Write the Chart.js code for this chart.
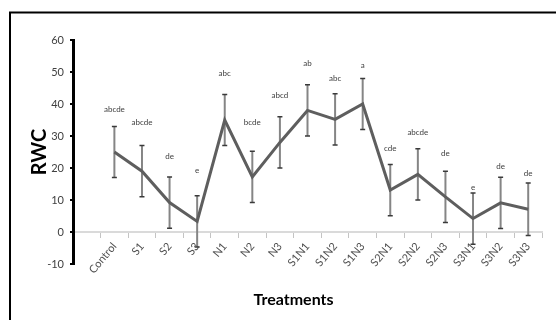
<!DOCTYPE html>
<html>
<head>
<meta charset="utf-8">
<script src="https://cdn.jsdelivr.net/npm/chart.js@4/dist/chart.umd.min.js"></script>
<style>
  html, body { margin: 0; padding: 0; background: #fff; }
</style>
</head>
<body>
<canvas id="rwcChart" width="556" height="320"></canvas>
<script>
const treatments = ['Control', 'S1', 'S2', 'S3', 'N1', 'N2', 'N3', 'S1N1', 'S1N2', 'S1N3', 'S2N1', 'S2N2', 'S2N3', 'S3N1', 'S3N2', 'S3N3'];
const rwcMeans = [25, 19, 9.2, 3.3, 35, 17.2, 28, 38, 35.2, 40, 13.1, 18, 11, 4.2, 9.1, 7.1];
const rwcErrors = [8, 8, 8, 8, 8, 8, 8, 8, 8, 8, 8, 8, 8, 8, 8, 8.2];
const letters = ['abcde', 'abcde', 'de', 'e', 'abc', 'bcde', 'abcd', 'ab', 'abc', 'a', 'cde', 'abcde', 'de', 'e', 'de', 'de'];
const letterLevels = [38.3, 34.3, 23.5, 19.2, 49.4, 34.3, 42.6, 52.7, 48, 52.2, 26.1, 31, 24.6, 13.9, 20.4, 18.3];

// frame, error bars, significance letters and the x title
const extras = {
    id: 'extras',
    beforeDraw(chart) {
        const c = chart.ctx;
        c.save();
        c.fillStyle = '#fff';
        c.fillRect(0, 0, chart.width, chart.height);
        c.strokeStyle = '#000';
        c.lineWidth = 2;
        c.strokeRect(10, 12.5, chart.width + 20, chart.height + 20);
        c.restore();
    },
    beforeDatasetsDraw(chart) {
        const c = chart.ctx;
        const y = chart.scales.y;
        const pts = chart.getDatasetMeta(0).data;
        c.save();
        pts.forEach((p, i) => {
            const top = y.getPixelForValue(rwcMeans[i] + rwcErrors[i]);
            const bot = y.getPixelForValue(rwcMeans[i] - rwcErrors[i]);
            c.strokeStyle = '#858585';
            c.lineWidth = 2;
            c.beginPath();
            c.moveTo(p.x, top);
            c.lineTo(p.x, bot);
            c.stroke();
            c.strokeStyle = '#3a3a3a';
            c.lineWidth = 1.5;
            c.beginPath();
            c.moveTo(p.x - 2.5, top);
            c.lineTo(p.x + 2.5, top);
            c.moveTo(p.x - 2.5, bot);
            c.lineTo(p.x + 2.5, bot);
            c.stroke();
        });
        c.restore();
    },
    afterDatasetsDraw(chart) {
        const c = chart.ctx;
        const y = chart.scales.y;
        const pts = chart.getDatasetMeta(0).data;
        const area = chart.chartArea;
        c.save();
        c.fillStyle = '#404040';
        c.font = '8px Lato';
        c.textAlign = 'center';
        c.textBaseline = 'middle';
        pts.forEach((p, i) => {
            c.fillText(letters[i], p.x, y.getPixelForValue(letterLevels[i]));
        });
        c.fillStyle = '#000';
        c.font = 'bold 16px Lato';
        c.fillText('Treatments', (area.left + area.right) / 2 - 14, 300);
        c.restore();
    }
};

new Chart(document.getElementById('rwcChart'), {
    type: 'line',
    data: {
        datasets: [{
            data: treatments.map((t, i) => ({ x: i, y: rwcMeans[i] })),
            borderColor: '#5e5e5e',
            borderWidth: 3,
            pointRadius: 0,
            tension: 0,
            fill: false
        }]
    },
    options: {
        responsive: false,
        animation: false,
        layout: { padding: { top: 40, right: 14, bottom: 56, left: 0 } },
        plugins: {
            legend: { display: false },
            tooltip: { enabled: false }
        },
        scales: {
            x: {
                type: 'linear',
                position: { y: 0 },
                min: -1.5,
                max: 15.5,
                afterBuildTicks: s => { s.ticks = treatments.map((t, i) => ({ value: i })); },
                afterFit: s => { s.height = 0; s.paddingLeft = 0; s.paddingRight = 0; },
                grid: { offset: true, drawOnChartArea: false, tickLength: 5, color: '#c4c4c4', lineWidth: 1 },
                border: { color: '#dadada', width: 2 },
                ticks: {
                    autoSkip: false,
                    minRotation: 50,
                    maxRotation: 50,
                    padding: 3,
                    color: '#505050',
                    font: { family: 'Lato', size: 11 },
                    callback: v => treatments[v]
                }
            },
            y: {
                min: -10,
                max: 60,
                afterFit: s => { s.width = 73; s.paddingTop = 0; s.paddingBottom = 0; },
                grid: { drawOnChartArea: false, tickLength: 3, color: '#000', lineWidth: 2 },
                border: { color: '#000', width: 3 },
                ticks: { stepSize: 10, padding: 6, color: '#404040', font: { family: 'Lato', size: 11 } },
                title: {
                    display: true,
                    text: 'RWC',
                    color: '#000',
                    font: { family: 'Lato', size: 20, weight: 'bold' },
                    padding: { top: 28, bottom: 0 }
                }
            }
        }
    },
    plugins: [extras]
});
</script>
</body>
</html>
